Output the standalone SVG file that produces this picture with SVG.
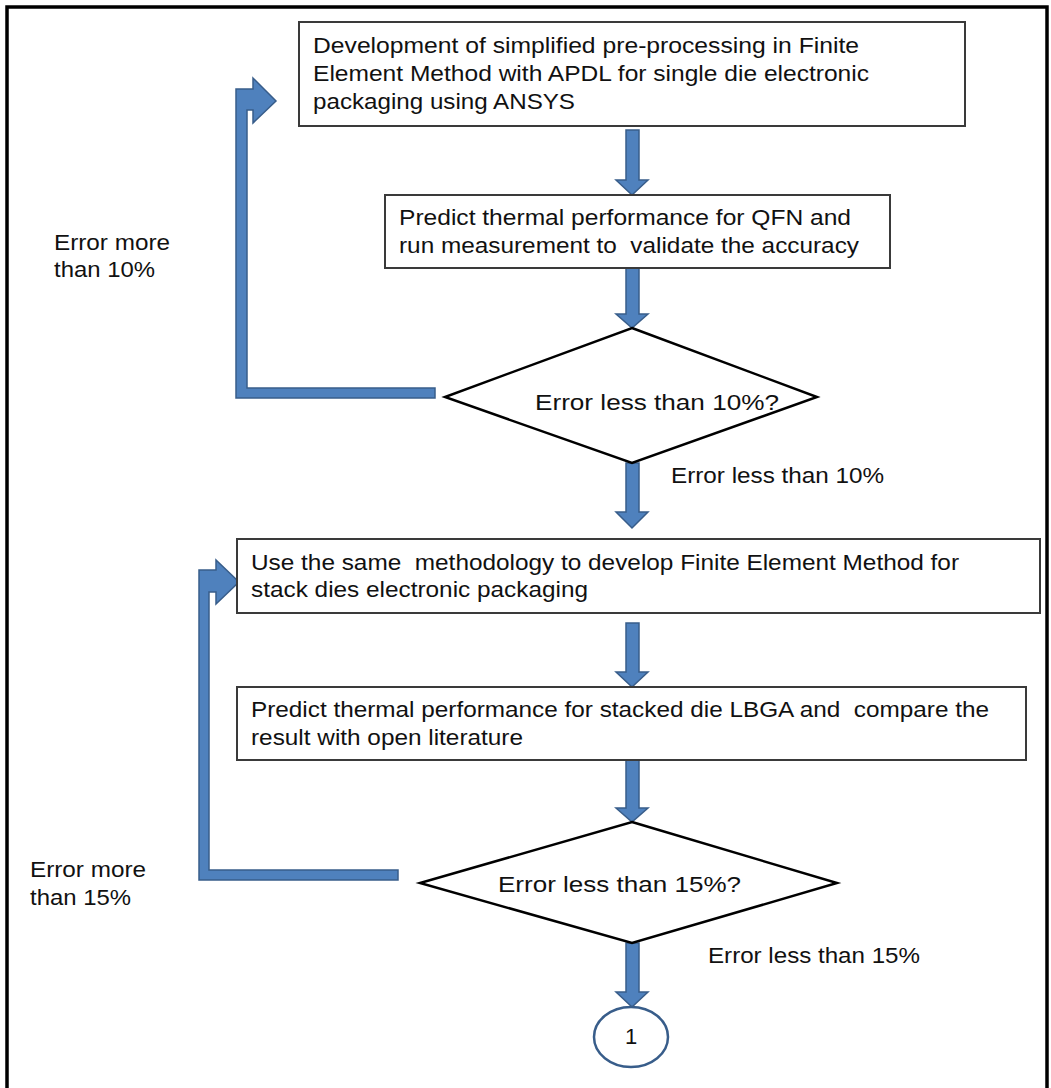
<svg xmlns="http://www.w3.org/2000/svg" width="1051" height="1088" viewBox="0 0 1051 1088">
<style>
  .box { fill: #ffffff; stroke: #3a3a3a; stroke-width: 2; }
  .dia { fill: #ffffff; stroke: #000000; stroke-width: 2.5; }
  .arr { fill: #4F81BD; stroke: #385D8A; stroke-width: 1.5; stroke-linejoin: miter; }
  .t { font-family: "Liberation Sans", Arial, sans-serif; font-size: 22px; fill: #111111; }
  .circ { fill: #ffffff; stroke: #385D8A; stroke-width: 2.5; }
</style>
<rect x="0" y="0" width="1051" height="1088" fill="#ffffff"/>
<rect x="7" y="7" width="1040" height="1100" fill="none" stroke="#000000" stroke-width="3.5"/>

<g id="connectors">
  <polygon class="arr" points="626,130 639,130 639,180 648,180 632,195 616,180 626,180"/>
  <polygon class="arr" points="626,268 639,268 639,314 648,314 632,328 616,314 626,314"/>
  <polygon class="arr" points="626,463 639,463 639,512 648,512 632,528 616,512 626,512"/>
  <polygon class="arr" points="626,623 639,623 639,672 648,672 632,687 616,672 626,672"/>
  <polygon class="arr" points="626,760 639,760 639,808 648,808 632,822 616,808 626,808"/>
  <polygon class="arr" points="626,943 639,943 639,992 648,992 632,1007 616,992 626,992"/>
  <polygon class="arr" points="435,388 435,398 236,398 236,89 253,89 253,78 276,101 253,123 253,110 247,110 247,388"/>
  <polygon class="arr" points="398,870 398,880 199,880 199,570 216,570 216,560 239,582 216,604 216,592 209,592 209,870"/>
</g>

<g id="n1">
  <rect class="box" x="299" y="22" width="666" height="104"/>
  <text class="t" x="313" y="53" textLength="546" lengthAdjust="spacingAndGlyphs">Development of simplified pre-processing in Finite</text>
  <text class="t" x="313" y="81" textLength="556" lengthAdjust="spacingAndGlyphs">Element Method with APDL for single die electronic</text>
  <text class="t" x="313" y="109" textLength="262" lengthAdjust="spacingAndGlyphs">packaging using ANSYS</text>
</g>

<g id="n2">
  <rect class="box" x="385" y="195" width="505" height="73"/>
  <text class="t" x="399" y="225" textLength="452" lengthAdjust="spacingAndGlyphs">Predict thermal performance for QFN and</text>
  <text class="t" x="399" y="253" textLength="460" lengthAdjust="spacingAndGlyphs" xml:space="preserve">run measurement to  validate the accuracy</text>
</g>

<g id="d1">
  <polygon class="dia" points="632,328 817,397 632,463 445,397"/>
  <text class="t" x="535" y="410" textLength="244" lengthAdjust="spacingAndGlyphs">Error less than 10%?</text>
</g>

<g id="l1">
  <text class="t" x="671" y="483" textLength="213" lengthAdjust="spacingAndGlyphs">Error less than 10%</text>
</g>
<g id="l2">
  <text class="t" x="54" y="250" textLength="116" lengthAdjust="spacingAndGlyphs">Error more</text>
  <text class="t" x="54" y="277" textLength="101" lengthAdjust="spacingAndGlyphs">than 10%</text>
</g>

<g id="n3">
  <rect class="box" x="237" y="539" width="803" height="74"/>
  <text class="t" x="251" y="570" textLength="708" lengthAdjust="spacingAndGlyphs" xml:space="preserve">Use the same  methodology to develop Finite Element Method for</text>
  <text class="t" x="251" y="597" textLength="337" lengthAdjust="spacingAndGlyphs">stack dies electronic packaging</text>
</g>

<g id="n4">
  <rect class="box" x="237" y="687" width="789" height="73"/>
  <text class="t" x="251" y="717" textLength="738" lengthAdjust="spacingAndGlyphs" xml:space="preserve">Predict thermal performance for stacked die LBGA and  compare the</text>
  <text class="t" x="251" y="745" textLength="272" lengthAdjust="spacingAndGlyphs">result with open literature</text>
</g>

<g id="d2">
  <polygon class="dia" points="632,822 837,883 632,943 420,883"/>
  <text class="t" x="498" y="892" textLength="243" lengthAdjust="spacingAndGlyphs">Error less than 15%?</text>
</g>

<g id="l3">
  <text class="t" x="708" y="963" textLength="212" lengthAdjust="spacingAndGlyphs">Error less than 15%</text>
</g>
<g id="l4">
  <text class="t" x="30" y="877" textLength="116" lengthAdjust="spacingAndGlyphs">Error more</text>
  <text class="t" x="30" y="905" textLength="101" lengthAdjust="spacingAndGlyphs">than 15%</text>
</g>

<g id="c1">
  <ellipse class="circ" cx="631" cy="1037" rx="37" ry="30"/>
  <text class="t" x="631" y="1044" text-anchor="middle">1</text>
</g>
</svg>
